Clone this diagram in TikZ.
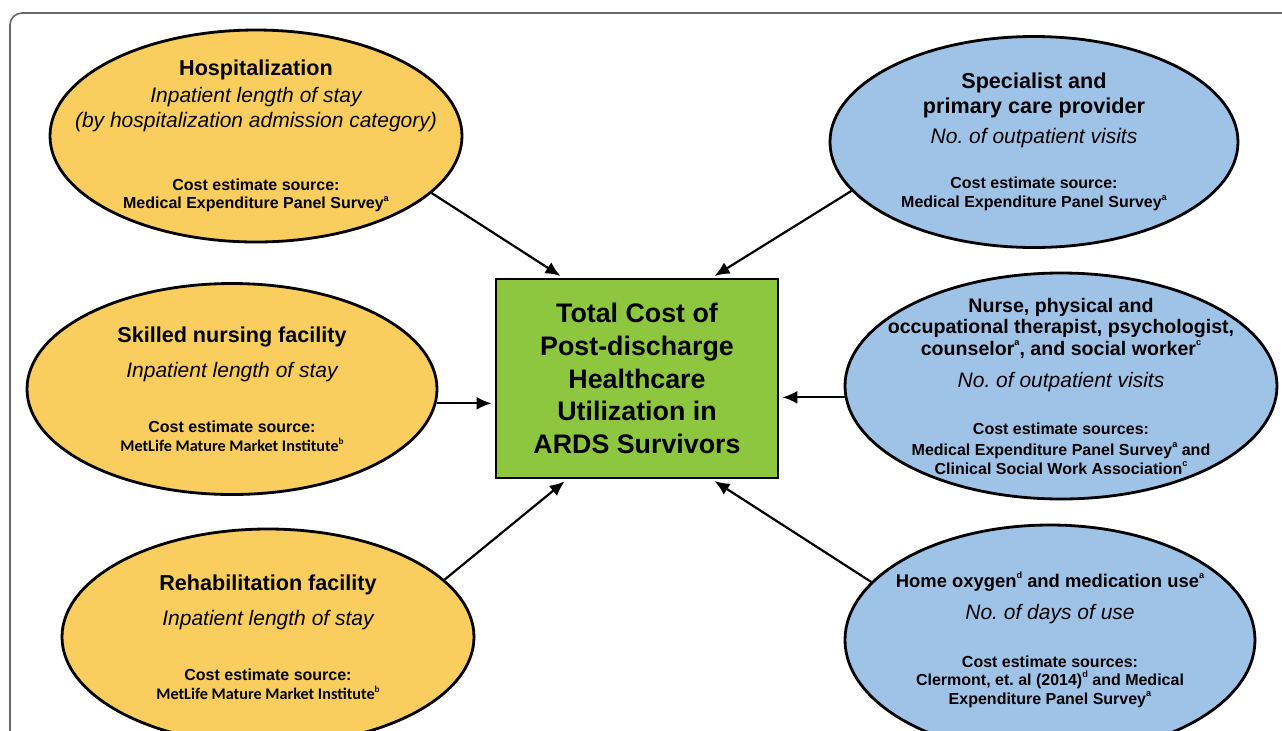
\documentclass[tikz,border=0pt]{standalone}
\usepackage{fontspec}
\setmainfont{Liberation Sans}
\newfontfamily\metlifefont{Carlito}
\usetikzlibrary{shapes.geometric,arrows.meta}
\definecolor{ardsyellow}{RGB}{250,205,95}
\definecolor{ardsblue}{RGB}{158,195,230}
\definecolor{ardsgreen}{RGB}{141,198,63}
\definecolor{framegray}{RGB}{105,105,105}
\newcommand{\heading}{\fontsize{10.8}{13}\selectfont\bfseries}
\newcommand{\smallheading}{\fontsize{9.8}{12}\selectfont\bfseries}
\newcommand{\homeheading}{\fontsize{9.2}{12}\selectfont\bfseries}
\newcommand{\measure}{\fontsize{10.5}{13}\selectfont\itshape}
\newcommand{\source}{\fontsize{8}{9.5}\selectfont\bfseries}
\newcommand{\metsource}{\fontsize{8.1}{9.5}\selectfont\metlifefont\bfseries}
\newcommand{\tightlines}{\fontsize{8}{9.5}\selectfont\lineskiplimit -20pt\relax}
\newcommand{\fn}[1]{\raisebox{0.9ex}{\fontsize{4.6}{5}\selectfont #1}}

\begin{document}
\begin{tikzpicture}[x=0.5pt, y=-0.5pt,
  bubble/.style={shape=ellipse, draw, line width=1.4pt, inner sep=-30pt, align=center, font=\tightlines},
  left bubble/.style={bubble, fill=ardsyellow},
  right bubble/.style={bubble, fill=ardsblue},
  total node/.style={shape=rectangle, draw, line width=1.4pt, fill=ardsgreen, align=center, minimum width=141pt, minimum height=99.5pt, font=\fontsize{13.4}{16.3}\selectfont\bfseries},
  feed/.style={-{Latex[length=7.5pt,width=6.5pt]}, line width=1.1pt, shorten >=1.5pt}]
\useasboundingbox (0,0) rectangle (1282,730);
\begin{scope}
\clip (0,0) rectangle (1282,730);
\draw[framegray, line width=0.8pt, rounded corners=6pt] (10,13) rectangle (1330,790);
\end{scope}

% centre box
\node[total node] (total) at (637,378.5) {Total Cost of\\ Post-discharge\\ Healthcare\\ Utilization in\\ ARDS Survivors};

% inpatient side
\node[left bubble, minimum width=206pt, minimum height=106pt] (hosp) at (256,136) {\heading Hospitalization\\[4pt] \measure Inpatient length of stay\\[3pt] \measure (by hospitalization admission category)\\[22pt] \source Cost estimate source:\\[-0.5pt] \source Medical Expenditure Panel Survey\fn{a}};
\node[left bubble, minimum width=205pt, minimum height=105.5pt] (skill) at (232,389) {\heading Skilled nursing facility\\[8pt] \measure Inpatient length of stay\\[18pt] \source Cost estimate source:\\ \metsource MetLife Mature Market Institute\fn{b}};
\node[left bubble, minimum width=206pt, minimum height=108pt] (rehab) at (268,637) {\heading Rehabilitation facility\\[8pt] \measure Inpatient length of stay\\[18pt] \source Cost estimate source:\\ \metsource MetLife Mature Market Institute\fn{b}};

% outpatient side
\node[right bubble, minimum width=204pt, minimum height=105.5pt] (spec) at (1034,142) {\heading Specialist and\\[3pt] \heading primary care provider\\[5.5pt] \measure No.\ of outpatient visits\\[13pt] \source Cost estimate source:\\ \source Medical Expenditure Panel Survey\fn{a}};
\node[right bubble, minimum width=216pt, minimum height=113pt] (nurse) at (1061,386) {\smallheading Nurse, physical and\\[1.25pt] \smallheading occupational therapist, psychologist,\\[1.25pt] \smallheading counselor\fn{a}, and social worker\fn{c}\\[6.5pt] \measure No.\ of outpatient visits\\[14pt] \source Cost estimate sources:\\[1pt] \source Medical Expenditure Panel Survey\fn{a} and\\ \source Clinical Social Work Association\fn{c}};
\node[right bubble, minimum width=205pt, minimum height=115pt] (home) at (1050,640) {\homeheading Home oxygen\fn{d} and medication use\fn{a}\\[6.5pt] \measure No.\ of days of use\\[14.5pt] \source Cost estimate sources:\\[-0.5pt] \source Clermont, et.\ al (2014)\fn{d} and Medical\\ \source Expenditure Panel Survey\fn{a}};

% connectors
\draw[feed] (hosp.-18) -- ([xshift=-37pt]total.north);
\draw[feed] (spec.195) -- ([xshift=37.5pt]total.north);
\draw[feed] (skill.-4) -- (skill.-4 -| total.west);
\draw[feed] (nurse.183) -- (nurse.183 -| total.east);
\draw[feed] (rehab.18) -- ([xshift=-35pt]total.south);
\draw[feed] (home.162) -- ([xshift=37.5pt]total.south);
\end{tikzpicture}
\end{document}
